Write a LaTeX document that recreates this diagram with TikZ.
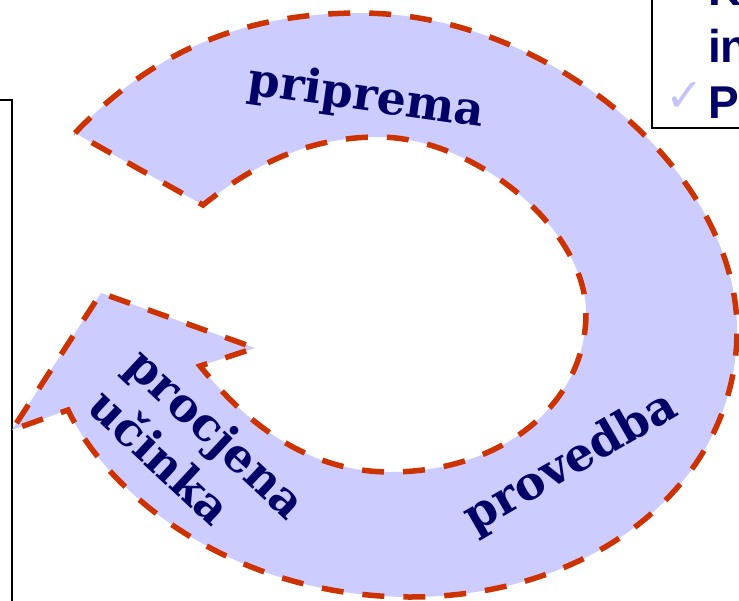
\documentclass[tikz,border=0pt]{standalone}
\usepackage{fontspec}
\newfontfamily\phasefont{DejaVu Serif}
\newfontfamily\boxfont{Liberation Sans}
\newfontfamily\checkfont{DejaVu Sans}
\definecolor{ringfill}{RGB}{204,204,255}
\definecolor{ringline}{RGB}{204,51,0}
\definecolor{phasetext}{RGB}{0,0,102}
\definecolor{checkcol}{RGB}{195,195,245}
\tikzset{
  ring/.style={fill=ringfill, draw=ringline, line width=5.5pt, dash pattern=on 22pt off 19pt},
  phase/.style={text=phasetext, font=\phasefont\bfseries\fontsize{46}{56}\selectfont},
  boxtext/.style={text=phasetext, font=\boxfont\bfseries\fontsize{46}{56}\selectfont, inner sep=0pt, anchor=base west}
}

\begin{document}
\begin{tikzpicture}[x=1pt,y=-1pt]
  \clip (0,0) rectangle (739,600);
  \draw[line width=2pt] (0,100) -- (12,100) -- (12,610);
  \draw[line width=1.5pt] (652,-10) -- (652,128) -- (760,128);

  \coordinate (tailout) at (75,133);
  \coordinate (top)     at (360,13);
  \coordinate (right)   at (737,330);
  \coordinate (bottom)  at (410,597);
  \coordinate (headout) at (68,410);
  \coordinate (barbl)   at (12,430);
  \coordinate (tip)     at (101,293);
  \coordinate (barbr)   at (255,348);
  \coordinate (headin)  at (200,366);
  \coordinate (bottomi) at (390,472);
  \coordinate (righti)  at (586,313);
  \coordinate (topi)    at (378,137);
  \coordinate (tailin)  at (203,205);

  \draw[ring] (tailout) .. controls (144,61) and (230,13) .. (top)
    .. controls (548,13) and (737,171) .. (right)
    .. controls (737,482) and (596,597) .. (bottom)
    .. controls (240,597) and (111,500) .. (headout)
    -- (barbl) -- (tip) -- (barbr) -- (headin)
    .. controls (238,413) and (300,472) .. (bottomi)
    .. controls (502,472) and (586,404) .. (righti)
    .. controls (586,230) and (476,137) .. (topi)
    .. controls (298,137) and (242,174) .. (tailin)
    -- cycle;

  \node[phase, rotate=-8] (priprema) at (366,98) {priprema};
  \node[phase, rotate=30] (provedba) at (571,463) {provedba};
  \node[phase, rotate=-43, align=left] (procjena) at (198,453) {procjena\\učinka};

  \node[boxtext] (k) at (708,5) {K};
  \node[boxtext] (in) at (708,62) {in};
  \node[boxtext] (p) at (708,118) {P};
  \node[text=checkcol, font=\checkfont\fontsize{46}{46}\selectfont, inner sep=0pt, anchor=base east] (check) at (704,111) {✓};
\end{tikzpicture}
\end{document}
